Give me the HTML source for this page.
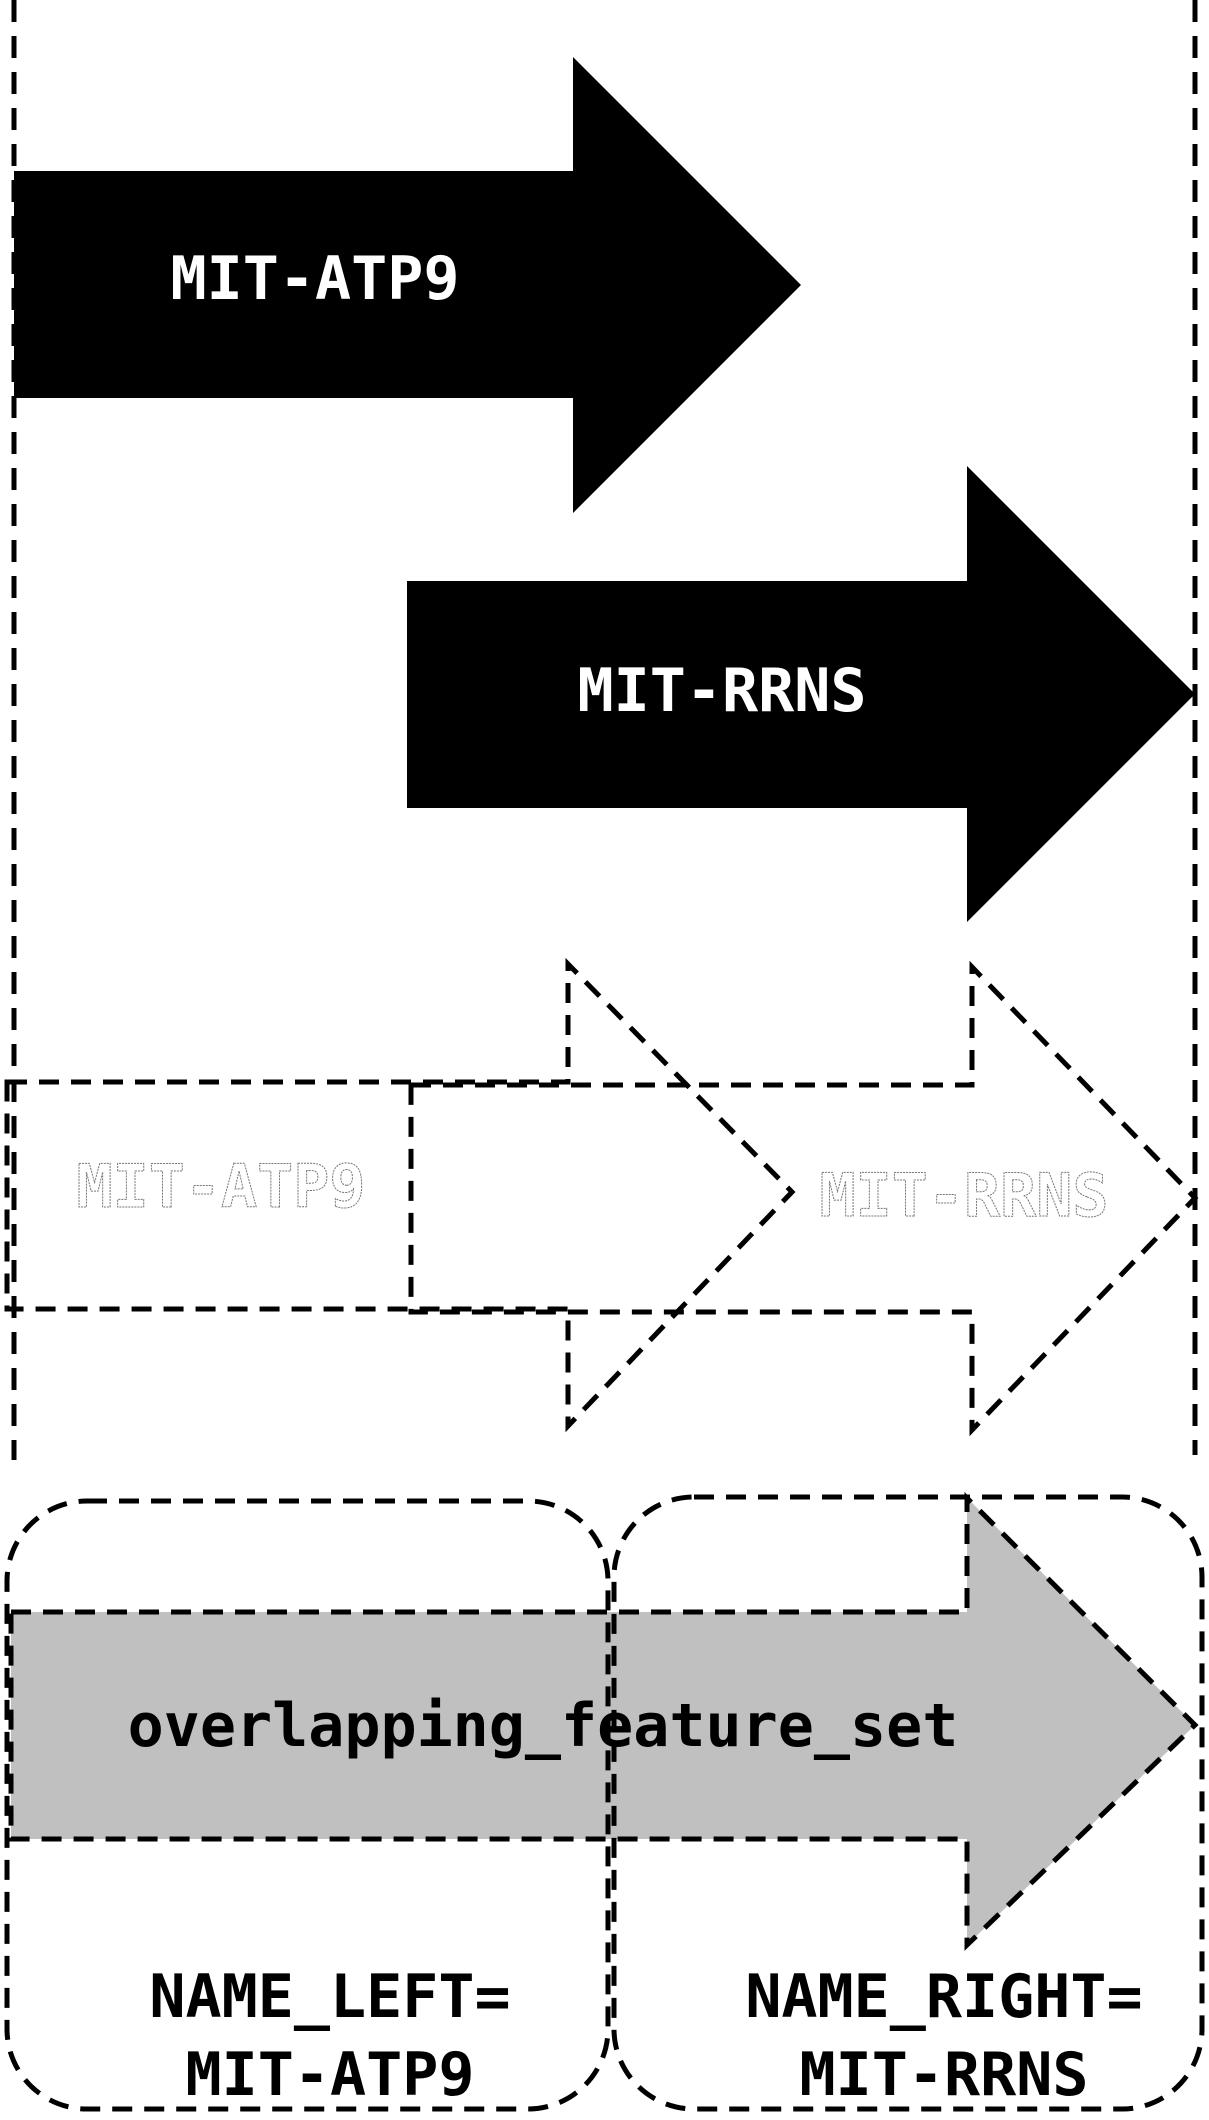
<!DOCTYPE html>
<html><head><meta charset="utf-8"><style>html,body{margin:0;padding:0;background:#fff}svg{display:block}</style></head>
<body>
<svg width="1209" height="2120" viewBox="0 0 1209 2120" xmlns="http://www.w3.org/2000/svg">
<g font-family="'DejaVu Sans Mono','Liberation Mono',monospace" font-weight="bold" font-size="60" text-anchor="middle">
<line x1="14" y1="0" x2="14" y2="1460" stroke="#000" stroke-width="5" stroke-dasharray="22,14"/>
<line x1="1195" y1="0" x2="1195" y2="1455" stroke="#000" stroke-width="5" stroke-dasharray="22,14"/>
<polygon points="14,171 573,171 573,57 801,285 573,513 573,398 14,398" fill="#000"/>
<text x="315" y="299" fill="#fff">MIT-ATP9</text>
<polygon points="407,581 967,581 967,466 1195,694 967,922 967,808 407,808" fill="#000"/>
<text x="722" y="711" fill="#fff">MIT-RRNS</text>
<polygon points="7,1082 568,1082 568,964 792,1192 568,1426 568,1309 7,1309" fill="none" stroke="#000" stroke-width="5" stroke-dasharray="20,12"/>
<polygon points="411,1085 972,1085 972,967 1195,1198 972,1430 972,1312 411,1312" fill="none" stroke="#000" stroke-width="5" stroke-dasharray="20,12"/>
<text x="221" y="1207" fill="#fff" stroke="#777" stroke-width="1" stroke-dasharray="2,1">MIT-ATP9</text>
<text x="964" y="1216" fill="#fff" stroke="#777" stroke-width="1" stroke-dasharray="2,1">MIT-RRNS</text>
<polygon points="11,1612 967,1612 967,1498 1195,1725 967,1945 967,1839 11,1839" fill="#c0c0c0" stroke="#000" stroke-width="5" stroke-dasharray="20,12"/>
<rect x="7" y="1501" width="601" height="608" rx="80" ry="80" fill="none" stroke="#000" stroke-width="5" stroke-dasharray="20,12"/>
<rect x="614" y="1497" width="588" height="612" rx="80" ry="80" fill="none" stroke="#000" stroke-width="5" stroke-dasharray="20,12"/>
<text x="543" y="1746" fill="#000">overlapping_feature_set</text>
<text x="330" y="2017" fill="#000">NAME_LEFT=</text>
<text x="330" y="2095" fill="#000">MIT-ATP9</text>
<text x="944" y="2017" fill="#000">NAME_RIGHT=</text>
<text x="944" y="2095" fill="#000">MIT-RRNS</text>
</g>
</svg>
</body></html>
